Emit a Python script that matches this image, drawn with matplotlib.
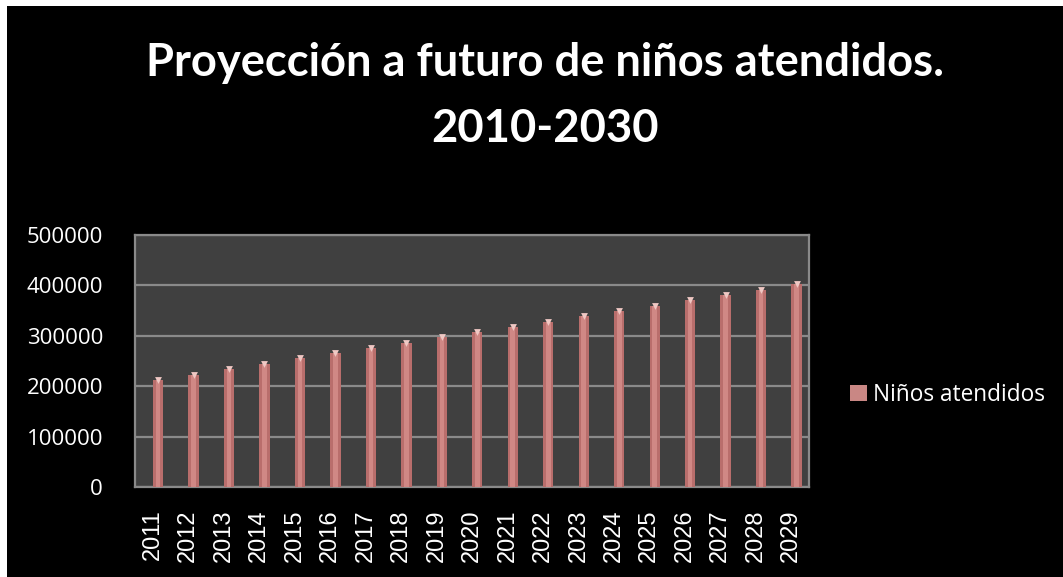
import matplotlib
matplotlib.use("Agg")
import matplotlib.pyplot as plt
from matplotlib.patches import Rectangle
import numpy as np

years = ["2011", "2012", "2013", "2014", "2015", "2016", "2017", "2018", "2019", "2020",
         "2021", "2022", "2023", "2024", "2025", "2026", "2027", "2028", "2029"]
ninos = [212000, 223000, 234000, 244000, 255000, 265000, 276000, 286000, 297000, 307000,
         318000, 328000, 339000, 350000, 360000, 371000, 381000, 391000, 402000]
yticks = [0, 100000, 200000, 300000, 400000, 500000]
title = "Proyección a futuro de niños atendidos.\n2010-2030"
series_name = "Niños atendidos"

fig = plt.figure(figsize=(10.63, 5.77), dpi=100, facecolor="black")
# white edges at top and left as in the reference
fig.patches.append(Rectangle((0, 1 - 6 / 577), 1, 6 / 577, transform=fig.transFigure,
                             facecolor="white", edgecolor="none", zorder=0))
fig.patches.append(Rectangle((0, 0), 7 / 1063, 1, transform=fig.transFigure,
                             facecolor="white", edgecolor="none", zorder=0))

ax = fig.add_axes([135 / 1063, 90 / 577, (809 - 135) / 1063, (487 - 235) / 577])
ax.set_facecolor("#404040")

x = np.arange(len(years))
off = 0.15
ax.bar(x + off, ninos, width=0.29, color="#b96e6c", edgecolor="none", zorder=3,
       label=series_name)
ax.bar(x + off, ninos, width=0.13, color="#d58d8a", edgecolor="none", zorder=4, alpha=0.85)
ax.scatter(x + off, ninos, marker="v", s=24, color="#f0c8c4", zorder=5, linewidths=0)

ax.set_xlim(-0.5, len(years) - 0.5)
ax.set_ylim(0, 500000)
ax.set_yticks(yticks)
ax.set_yticklabels([str(v) for v in yticks], fontsize=16, color="white", family="Open Sans")
ax.set_xticks(x)
ax.set_xticklabels(years, rotation=90, fontsize=17, color="white", family="Liberation Sans")
ax.tick_params(axis="y", length=0, pad=23)
ax.tick_params(axis="x", length=0, pad=16)
ax.yaxis.grid(True, color="#8a8a8a", linewidth=1.6, zorder=1)
ax.set_axisbelow(True)
for s in ax.spines.values():
    s.set_color("#8a8a8a")
    s.set_linewidth(1.6)

fig.text(545 / 1063, 1 - 96 / 577, title, ha="center", va="center", color="white",
         fontsize=32.7, fontweight="bold", family="Lato", linespacing=1.7)

h = Rectangle((0, 0), 1, 1, facecolor="#c98784", edgecolor="none")
fig.legend([h], [series_name], loc="center left", bbox_to_anchor=(830 / 1063, 1 - 395 / 577),
           frameon=False, labelcolor="white", handlelength=0.75,
           handleheight=0.75, handletextpad=0.25, prop={"family": "Open Sans", "size": 16.3})

fig.savefig("out.png", dpi=100, facecolor="black")
